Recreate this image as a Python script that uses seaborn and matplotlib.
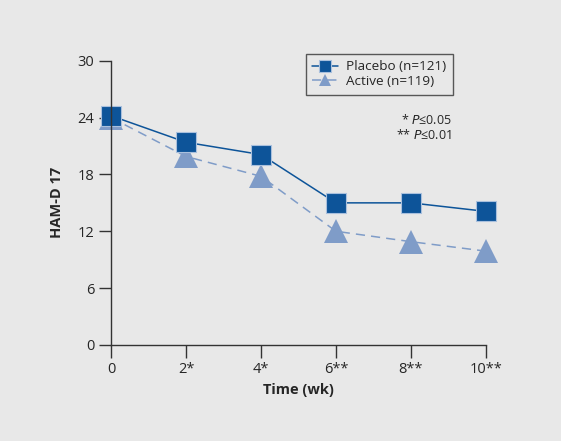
import matplotlib
matplotlib.use("Agg")
import matplotlib.pyplot as plt
import seaborn as sns
import pandas as pd

# Dados
semanas = [0, 2, 4, 6, 8, 10]
rotulos_x = ["0", "2*", "4*", "6**", "8**", "10**"]
placebo = [24.2, 21.4, 20.1, 15.0, 15.0, 14.1]
ativo = [24.0, 19.9, 17.8, 12.0, 10.9, 9.9]
ticks_y = [0, 6, 12, 18, 24, 30]

FUNDO = "#e8e8e8"
AZUL_ESCURO = "#0d5499"
AZUL_CLARO = "#7f9cc8"

sns.set_style("ticks")
plt.rcParams["font.family"] = ["Open Sans", "DejaVu Sans"]

df = pd.DataFrame({"semana": semanas, "placebo": placebo, "ativo": ativo})

fig = plt.figure(figsize=(5.61, 4.41), dpi=100, facecolor=FUNDO)
ax = fig.add_axes([0.198, 0.218, 0.668, 0.644])
ax.set_facecolor(FUNDO)

sns.lineplot(ax=ax, data=df, x="semana", y="ativo", color=AZUL_CLARO,
             marker="^", markersize=17, markeredgewidth=0, linestyle=(0, (6, 4)),
             linewidth=1.1, label="Active (n=119)")
sns.lineplot(ax=ax, data=df, x="semana", y="placebo", color=AZUL_ESCURO,
             marker="s", markersize=14, markeredgewidth=0.8, markeredgecolor="#a9c0dd",
             linewidth=1.1, label="Placebo (n=121)")

ax.set_xlim(0, 10)
ax.set_ylim(0, 30)
ax.set_xticks(semanas)
ax.set_xticklabels(rotulos_x, fontsize=10.5)
ax.set_yticks(ticks_y)
ax.set_yticklabels([str(t) for t in ticks_y], fontsize=10.5)
ax.tick_params(axis="both", direction="out", length=9, width=1, color="#333333", pad=3)

for lado in ["top", "right"]:
    ax.spines[lado].set_visible(False)
for lado in ["left", "bottom"]:
    ax.spines[lado].set_color("#333333")
    ax.spines[lado].set_linewidth(1)

for artista in ax.lines:
    artista.set_clip_on(False)

ax.set_xlabel("Time (wk)", fontsize=10.5, fontweight="bold", labelpad=5)
ax.set_ylabel("HAM-D 17", fontsize=10.5, fontweight="bold", labelpad=10)

handles, labels = ax.get_legend_handles_labels()
leg = ax.legend(handles[::-1], labels[::-1], loc="upper right", bbox_to_anchor=(0.912, 1.025),
                borderaxespad=0, frameon=True, fancybox=False, fontsize=9.7,
                handlelength=1.9, borderpad=0.5, labelspacing=0.1, handletextpad=0.6)
leg.get_frame().set_facecolor(FUNDO)
leg.get_frame().set_edgecolor("#333333")
leg.get_frame().set_linewidth(1)
for h in leg.legend_handles:
    h.set_markersize(9)

ax.text(0.909, 0.792, "* $P$\u22640.05", transform=ax.transAxes, ha="right", va="center", fontsize=9)
ax.text(0.909, 0.739, "** $P$\u22640.01", transform=ax.transAxes, ha="right", va="center", fontsize=9)

fig.savefig("out.png", dpi=100, facecolor=FUNDO)
